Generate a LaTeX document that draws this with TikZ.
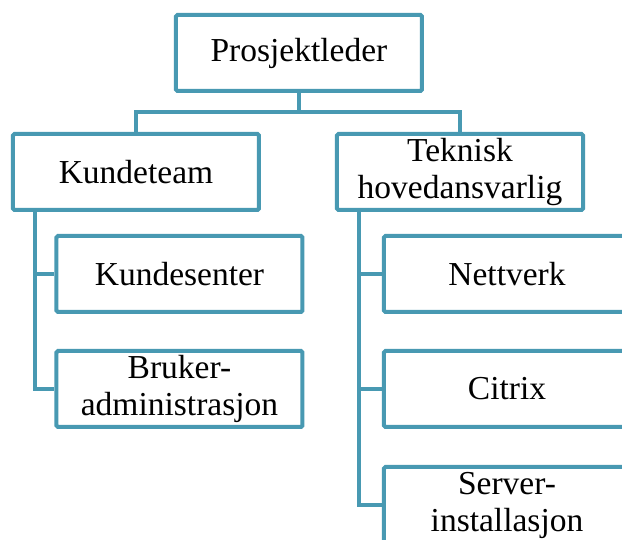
\documentclass[tikz,border=0pt]{standalone}
\usepackage{fontspec}
\setmainfont{Liberation Serif}
\usetikzlibrary{positioning,calc}
\definecolor{orgline}{RGB}{72,153,178}

\begin{document}
\begin{tikzpicture}[x=1pt,y=1pt,node distance= 0 and 0]
\def\lw{4pt}
\def\stem{24pt}
\tikzstyle{bx}=[draw=orgline, line width=\lw, rounded corners=1.5pt, fill=white, align=center, minimum width=246pt, minimum height=76pt, inner sep=2pt, font=\fontsize{33.5pt}{37pt}\selectfont]
\tikzstyle{ln}=[draw=orgline, line width=\lw]

% the screenshot cuts the right column off
\useasboundingbox (-299,53) rectangle (323,-487);
\clip (-299,53) rectangle (323,-487);

\path node[bx] (pl) {Prosjektleder}
	   node[bx, below=39pt of pl, xshift=-163pt] (kt) {Kundeteam}
	   node[bx, below=39pt of pl, xshift=161pt] (th) {Teknisk\\hovedansvarlig}

	   node[bx, below=22pt of kt, xshift=43.5pt] (ks) {Kundesenter}
	   node[bx, below=35pt of ks] (ba) {Bruker-\\administrasjon}

	   node[bx, below=22pt of th, xshift=47pt] (nv) {Nettverk}
	   node[bx, below=35pt of nv] (cx) {Citrix}
	   node[bx, below=36pt of cx] (si) {Server-\\installasjon}
;

% top level split
\coordinate (split) at ($(pl.south)!.5!(pl.south |- kt.north)$);
\draw[ln] (pl.south) -- (split) -| (kt.north);
\draw[ln] (split) -| (th.north);

% side spines to the children
\coordinate (kspine) at ($(kt.south west)+(\stem,0)$);
\coordinate (tspine) at ($(th.south west)+(\stem,0)$);
\draw[ln] (kspine) |- (ks.west)   (kspine) |- (ba.west);
\draw[ln] (tspine) |- (nv.west)   (tspine) |- (cx.west)   (tspine) |- (si.west);
\end{tikzpicture}
\end{document}
